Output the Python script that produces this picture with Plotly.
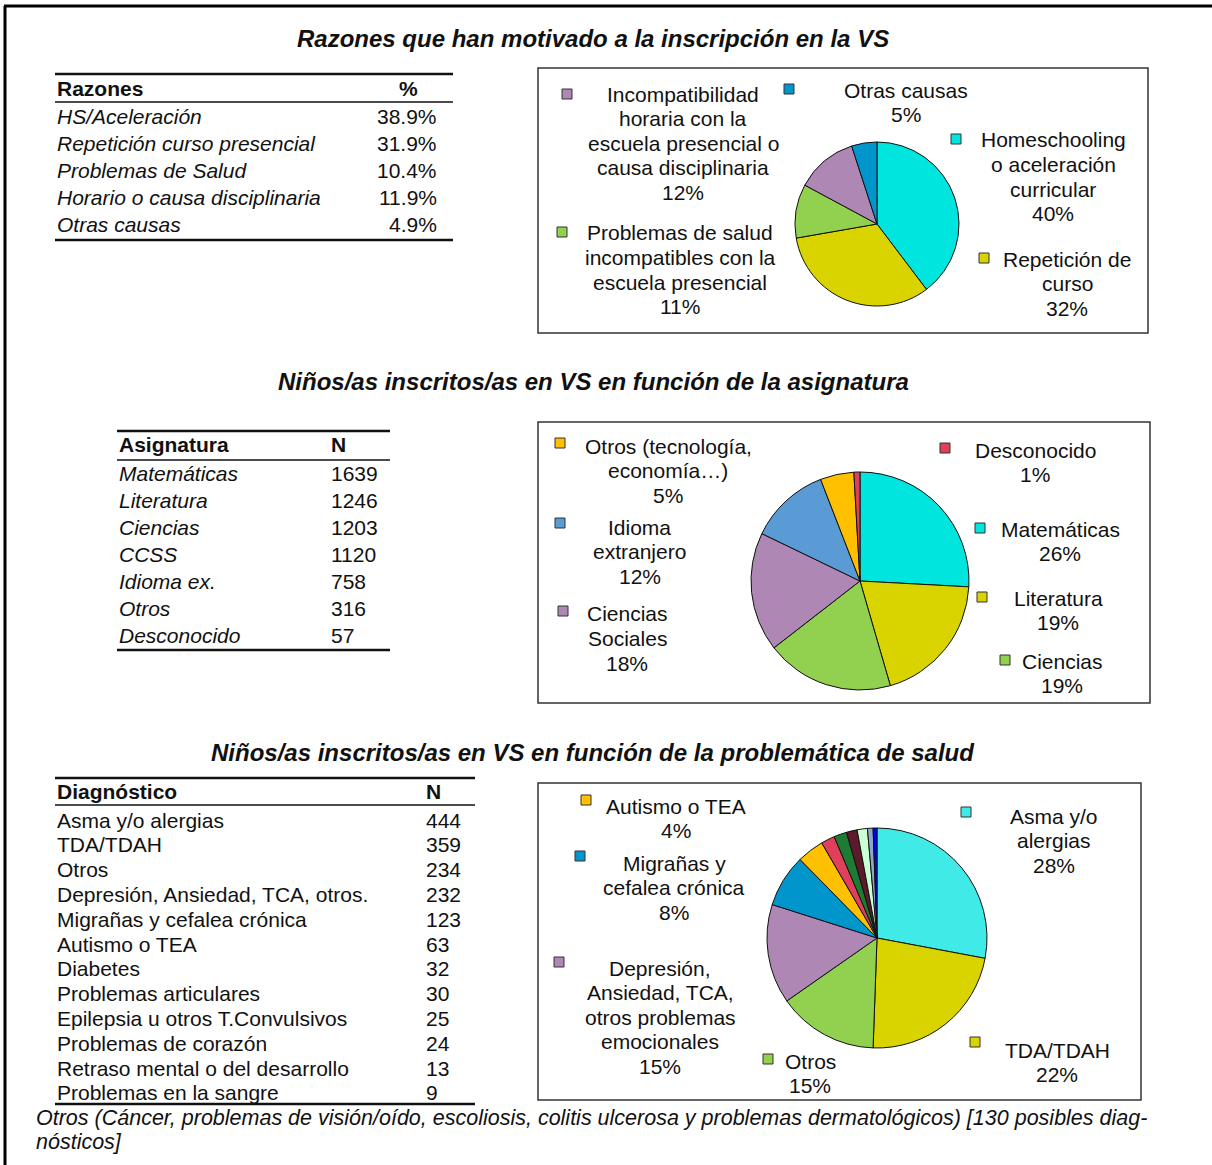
import plotly.graph_objects as go

W, H = 1212, 1165
OFF = 0
FONT = "Liberation Sans, Arial, sans-serif"

# ---------------- DATA ----------------
titles = [
    "Razones que han motivado a la inscripción en la VS",
    "Niños/as inscritos/as en VS en función de la asignatura",
    "Niños/as inscritos/as en VS en función de la problemática de salud",
]

# Table / pie 1
razones_head = ["Razones", "%"]
razones = ["HS/Aceleración", "Repetición curso presencial", "Problemas de Salud",
           "Horario o causa disciplinaria", "Otras causas"]
razones_pct = [38.9, 31.9, 10.4, 11.9, 4.9]
razones_pct_txt = ["38.9%", "31.9%", "10.4%", "11.9%", "4.9%"]
razones_pie_names = ["Homeschooling<br>o aceleración<br>curricular",
                     "Repetición de<br>curso",
                     "Problemas de salud<br>incompatibles con la<br>escuela presencial",
                     "Incompatibilidad<br>horaria con la<br>escuela presencial o<br>causa disciplinaria",
                     "Otras causas"]
razones_pie_pct = ["40%", "32%", "11%", "12%", "5%"]

# Table / pie 2
asig_head = ["Asignatura", "N"]
asignaturas = ["Matemáticas", "Literatura", "Ciencias", "CCSS", "Idioma ex.", "Otros", "Desconocido"]
asig_n = [1639, 1246, 1203, 1120, 758, 316, 57]
asig_pie_names = ["Matemáticas", "Literatura", "Ciencias", "Ciencias<br>Sociales",
                  "Idioma<br>extranjero", "Otros (tecnología,<br>economía…)", "Desconocido"]
asig_pie_pct = ["26%", "19%", "19%", "18%", "12%", "5%", "1%"]

# Table / pie 3
diag_head = ["Diagnóstico", "N"]
diagnosticos = ["Asma y/o alergias", "TDA/TDAH", "Otros", "Depresión, Ansiedad, TCA, otros.",
                "Migrañas y cefalea crónica", "Autismo o TEA", "Diabetes", "Problemas articulares",
                "Epilepsia u otros T.Convulsivos", "Problemas de corazón",
                "Retraso mental o del desarrollo", "Problemas en la sangre"]
diag_n = [444, 359, 234, 232, 123, 63, 32, 30, 25, 24, 13, 9]
diag_pie_names = ["Asma y/o<br>alergias", "TDA/TDAH", "Otros",
                  "Depresión,<br>Ansiedad, TCA,<br>otros problemas<br>emocionales",
                  "Migrañas y<br>cefalea crónica", "Autismo o TEA"]
diag_pie_pct = ["28%", "22%", "15%", "15%", "8%", "4%"]

footnote = ["Otros (Cáncer, problemas de visión/oído, escoliosis, colitis ulcerosa y problemas dermatológicos) [130 posibles diag-",
            "nósticos]"]

# ---------------- STYLES ----------------
col1 = ["#00E6DE", "#D9D300", "#92D050", "#AE87B5", "#0096CC"]
col2 = ["#00E6DE", "#D9D300", "#92D050", "#AE87B5", "#5B9BD5", "#FFC000", "#E0405A"]
col3 = ["#40EAE6", "#D9D300", "#92D050", "#AE87B5", "#0096CC", "#FFC000",
        "#E0405A", "#1E7B34", "#5C1A2A", "#CCFFD6", "#8EA9C8", "#0000FF"]


def X(px):
    return (px - OFF) / W


def Y(py):
    return 1 - (py - OFF) / H


fig = go.Figure()
annotations = []
shapes = []


def text(px, py, s, size=21, anchor="center", italic=False, bold=False, color="#111"):
    if bold:
        s = "<b>" + s + "</b>"
    if italic:
        s = "<i>" + s + "</i>"
    annotations.append(dict(x=X(px), y=Y(py), xref="paper", yref="paper", text=s,
                            showarrow=False, xanchor=anchor, yanchor="middle",
                            font=dict(family=FONT, size=size, color=color)))


def hline(x0, x1, y, w=2, color="#111"):
    shapes.append(dict(type="line", xref="paper", yref="paper", x0=X(x0), x1=X(x1),
                       y0=Y(y), y1=Y(y), line=dict(color=color, width=w)))


def rect(x0, y0, x1, y1, fill=None, w=1.5, color="#333"):
    shapes.append(dict(type="rect", xref="paper", yref="paper", x0=X(x0), x1=X(x1),
                       y0=Y(y1), y1=Y(y0), line=dict(color=color, width=w),
                       fillcolor=fill if fill else "rgba(0,0,0,0)"))


def pie(values, colors, cx, cy, r):
    fig.add_trace(go.Pie(values=values, marker=dict(colors=colors, line=dict(color="#111", width=1)),
                         sort=False, direction="clockwise", rotation=0, textinfo="none",
                         hoverinfo="value+percent", showlegend=False,
                         domain=dict(x=[X(cx - r), X(cx + r)], y=[Y(cy + r), Y(cy - r)])))


def pie_label(mx, my, tx, ty, name, pct, color, step=24.6):
    rect(mx - 5, my - 5, mx + 5, my + 5, fill=color, w=1, color="#333")
    lines = name.split("<br>") + [pct]
    for i, ln in enumerate(lines):
        text(tx, ty + i * step, ln, size=21)


# outer frame
shapes.append(dict(type="line", xref="paper", yref="paper", x0=X(4), x1=1, y0=Y(6), y1=Y(6),
                   line=dict(color="#000", width=3)))
shapes.append(dict(type="line", xref="paper", yref="paper", x0=X(5), x1=X(5), y0=Y(6), y1=0,
                   line=dict(color="#000", width=3)))

# titles
text(593, 38, titles[0], size=24, italic=True, bold=True)
text(593, 381, titles[1], size=24, italic=True, bold=True)
text(593, 752, titles[2], size=24, italic=True, bold=True)

# ---- table 1 ----
hline(55, 453, 74, 2.5)
hline(55, 453, 102, 1.5)
hline(55, 453, 240, 2.5)
text(55, 88, razones_head[0], bold=True, anchor="left")
text(408, 88, razones_head[1], bold=True)
for i, (r, v) in enumerate(zip(razones, razones_pct_txt)):
    y = 116 + i * 27.2
    text(55, y, r, italic=True, anchor="left")
    text(439, y, v, anchor="right")

# ---- table 2 ----
hline(117, 390, 431, 2.5)
hline(117, 390, 460, 1.5)
hline(117, 390, 650, 2.5)
text(117, 445, asig_head[0], bold=True, anchor="left")
text(329, 445, asig_head[1], bold=True, anchor="left")
for i, (a, v) in enumerate(zip(asignaturas, asig_n)):
    y = 473 + i * 27
    text(117, y, a, italic=True, anchor="left")
    text(329, y, str(v), anchor="left")

# ---- table 3 ----
hline(55, 475, 778, 2.5)
hline(55, 475, 805, 1.5)
hline(55, 475, 1104, 2.5)
text(55, 792, diag_head[0], bold=True, anchor="left")
text(424, 792, diag_head[1], bold=True, anchor="left")
for i, (d, v) in enumerate(zip(diagnosticos, diag_n)):
    y = 820 + i * 24.8
    text(55, y, d, anchor="left")
    text(424, y, str(v), anchor="left")

text(34, 1118, footnote[0], size=21.5, italic=True, anchor="left")
text(34, 1142, footnote[1], size=21.5, italic=True, anchor="left")

# ---- pie boxes ----
rect(538, 68, 1148, 333)
rect(538, 422, 1150, 703)
rect(538, 783, 1141, 1100)

# ---- pies ----
pie(razones_pct, col1, 877, 224, 82)
pie(asig_n, col2, 860, 581, 109)
pie(diag_n, col3, 877, 938, 110)

# pie 1 labels: (marker x, marker y, text center x, first line y)
pos1 = [(956, 139, 1053, 140), (984, 258, 1067, 259), (562, 232, 680, 233),
        (567, 94, 683, 94), (789, 89, 906, 90)]
for (mx, my, tx, ty), n, p, c in zip(pos1, razones_pie_names, razones_pie_pct, col1):
    pie_label(mx, my, tx, ty, n, p, c)

pos2 = [(980, 528, 1060, 529), (982, 597, 1058, 598), (1005, 660, 1062, 661),
        (563, 611, 627, 614), (560, 523, 640, 527), (560, 443, 668, 446), (945, 448, 1035, 450)]
for (mx, my, tx, ty), n, p, c in zip(pos2, asig_pie_names, asig_pie_pct, col2):
    pie_label(mx, my, tx, ty, n, p, c)

pos3 = [(966, 812, 1054, 816), (975, 1042, 1057, 1050), (768, 1059, 810, 1061),
        (559, 962, 660, 968), (580, 856, 674, 863), (586, 800, 676, 806)]
for (mx, my, tx, ty), n, p, c in zip(pos3, diag_pie_names, diag_pie_pct, col3):
    pie_label(mx, my, tx, ty, n, p, c)

fig.update_layout(width=W, height=H, margin=dict(l=0, r=0, t=0, b=0),
                  paper_bgcolor="white", plot_bgcolor="white",
                  annotations=annotations, shapes=shapes,
                  font=dict(family=FONT))
fig.write_html("out.html", config={"displayModeBar": False},
               post_script="document.body.style.margin='0';document.body.style.overflow='hidden';")
